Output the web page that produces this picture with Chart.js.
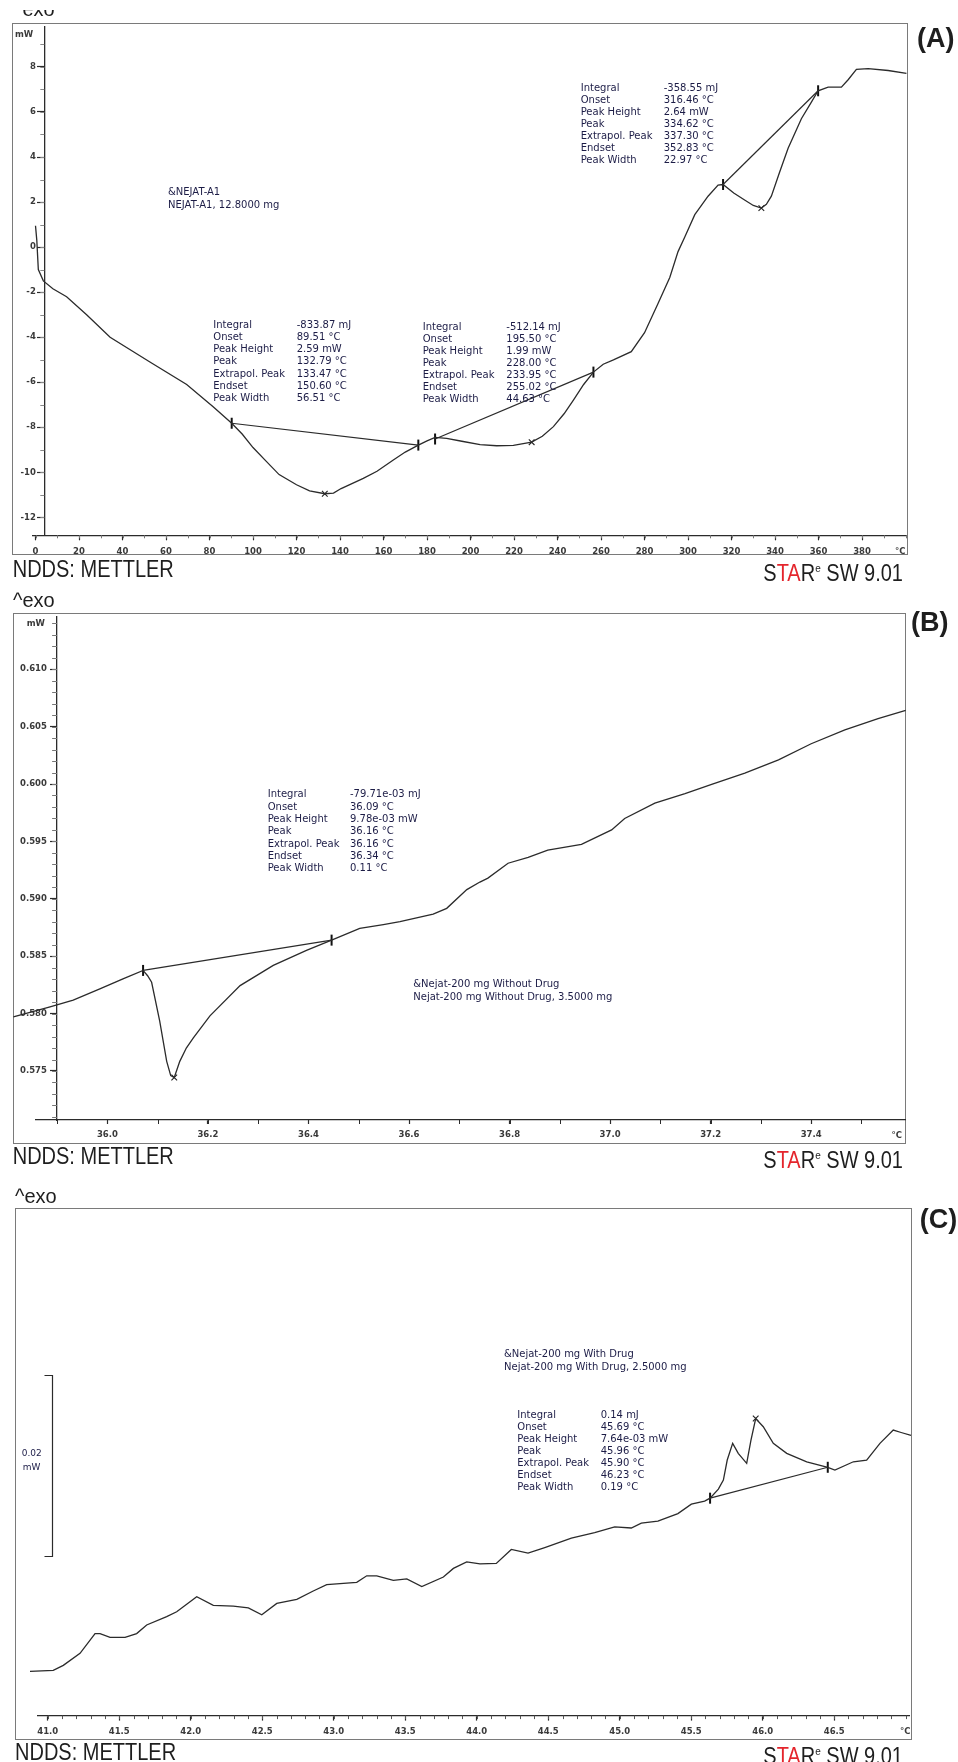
<!DOCTYPE html>
<html>
<head>
<meta charset="utf-8">
<script src="https://cdn.jsdelivr.net/npm/chart.js@4.4.1/dist/chart.umd.min.js"></script>
<style>
  body { margin: 0; width: 958px; height: 1762px; background: #fff; position: relative; overflow: hidden;
         font-family: "Liberation Sans", Arial, sans-serif; }
  .frame { position: absolute; border: 1.5px solid #7a7a7a; box-sizing: border-box; }
  canvas { position: absolute; left: 0; }
  .t { position: absolute; white-space: pre; }
  .big { font-size: 20px; line-height: 20px; color: #1e1e1e; transform: scaleY(1.15); transform-origin: 0 0; }
  .tag { font-size: 27px; line-height: 27px; font-weight: bold; color: #1e1e1e; }
  .note { font-family: "DejaVu Sans"; font-size: 10px; color: #1c1c46; }
  .unit { font-family: "DejaVu Sans"; font-size: 8.5px; font-weight: bold; color: #3a3a3a; line-height: 10px; }
  .red { color: #e4252c; }
  .exo { position: absolute; overflow: hidden; width: 60px; }
</style>
</head>
<body>

<div class="frame" style="left:12px; top:23px; width:896px; height:532px;"></div>
<div class="frame" style="left:12.7px; top:612.7px; width:893px; height:531px;"></div>
<div class="frame" style="left:15px; top:1207.8px; width:897px; height:532.3px;"></div>

<canvas id="chartA" width="958" height="557" style="top:0px;"></canvas>
<canvas id="chartB" width="958" height="566" style="top:580px;"></canvas>
<canvas id="chartC" width="958" height="572" style="top:1170px;"></canvas>

<script>
// ---------- (A) NEJAT-A1, 0-400 °C ----------
const aTemp = [0, 0.6, 1.3, 3.6, 8, 14.3, 23.5, 34.3, 52.6, 69.5, 81.8, 90.2, 95, 100, 106, 112, 120, 126,
  133, 137, 140.5, 150.7, 157, 164.5, 170, 176, 180, 183.7, 189, 196, 204.4, 212, 219.7, 228.1, 233,
  238.1, 243, 247.3, 252, 256.5, 261, 265.7, 273.9, 280, 286.2, 291.6, 295.4, 298.5, 303.1, 309.2,
  313.8, 316.1, 321, 326, 330, 333.7, 336, 338.3, 342, 346, 352.1, 356.7, 359.8, 364.4, 370.5, 373.6,
  377.4, 382.8, 392, 400.4];
const aHeat = [0.95, 0.3, -1.0, -1.5, -1.85, -2.2, -3.0, -4.0, -5.1, -6.1, -7.1, -7.82, -8.3, -8.9, -9.5,
  -10.1, -10.55, -10.82, -10.95, -10.92, -10.72, -10.27, -9.95, -9.45, -9.1, -8.79, -8.6, -8.45, -8.49,
  -8.62, -8.77, -8.82, -8.8, -8.66, -8.4, -7.97, -7.4, -6.79, -6.1, -5.55, -5.2, -5.01, -4.64, -3.8,
  -2.5, -1.35, -0.2, 0.45, 1.44, 2.26, 2.75, 2.78, 2.4, 2.09, 1.85, 1.73, 1.9, 2.26, 3.3, 4.39, 5.7,
  6.44, 6.94, 7.1, 7.1, 7.43, 7.89, 7.92, 7.84, 7.71];
// onset / endset pairs (baseline ends)
const aBaseTemp = [90.2, 176, 183.7, 256.5, 316.1, 359.8];
const aBaseHeat = [-7.82, -8.79, -8.52, -5.55, 2.78, 6.94];
const aPeakTemp = [133, 228.1, 333.7];
const aPeakHeat = [-10.95, -8.66, 1.73];
const aXTicks = [0, 20, 40, 60, 80, 100, 120, 140, 160, 180, 200, 220, 240, 260, 280, 300, 320, 340, 360, 380];
const aYTicks = [-12, -10, -8, -6, -4, -2, 0, 2, 4, 6, 8];

// ---------- (B) Nejat-200 mg Without Drug ----------
const bTemp = [35.813, 35.886, 35.932, 35.985, 36.031, 36.071, 36.080, 36.088, 36.104, 36.118, 36.126,
  36.133, 36.144, 36.157, 36.171, 36.204, 36.264, 36.330, 36.396, 36.446, 36.502, 36.549, 36.582,
  36.648, 36.675, 36.715, 36.741, 36.757, 36.797, 36.837, 36.876, 36.943, 37.003, 37.029, 37.089,
  37.149, 37.202, 37.268, 37.335, 37.400, 37.467, 37.533, 37.588];
const bHeat = [0.57971, 0.58059, 0.58118, 0.58215, 0.58303, 0.58376, 0.58330, 0.58273, 0.57936, 0.57584,
  0.57460, 0.57443, 0.57584, 0.57700, 0.57789, 0.57980, 0.58244, 0.58420, 0.58551, 0.58640, 0.58742,
  0.58776, 0.58802, 0.58867, 0.58917, 0.59080, 0.59146, 0.59180, 0.59310, 0.59360, 0.59424, 0.59474,
  0.59600, 0.59700, 0.59833, 0.59916, 0.59997, 0.60095, 0.60210, 0.60351, 0.60472, 0.60570, 0.60642];
const bBaseTemp = [36.071, 36.446];
const bBaseHeat = [0.58376, 0.58640];
const bPeakTemp = [36.133];
const bPeakHeat = [0.57443];
const bXTicks = [36.0, 36.2, 36.4, 36.6, 36.8, 37.0, 37.2, 37.4];
const bYTicks = [0.575, 0.580, 0.585, 0.590, 0.595, 0.600, 0.605, 0.610];

// ---------- (C) Nejat-200 mg With Drug (relative mW) ----------
const cTemp = [40.772, 40.876, 41.039, 41.109, 41.226, 41.331, 41.366, 41.436, 41.541, 41.622, 41.692,
  41.832, 41.902, 42.042, 42.158, 42.298, 42.403, 42.497, 42.602, 42.742, 42.857, 42.951, 43.161,
  43.231, 43.301, 43.417, 43.511, 43.616, 43.767, 43.837, 43.930, 44.023, 44.137, 44.242, 44.359,
  44.476, 44.662, 44.825, 44.965, 45.081, 45.151, 45.267, 45.407, 45.501, 45.594, 45.632, 45.690,
  45.725, 45.752, 45.790, 45.829, 45.888, 45.918, 45.951, 46.004, 46.074, 46.168, 46.308, 46.455,
  46.505, 46.634, 46.727, 46.820, 46.913, 46.968, 47.037];
const cHeat = [0.00437, 0.00488, 0.00500, 0.00555, 0.00688, 0.00905, 0.00905, 0.00863, 0.00863, 0.00905,
  0.01000, 0.01092, 0.01146, 0.01313, 0.01217, 0.01209, 0.01188, 0.01113, 0.01238, 0.01284, 0.01375,
  0.01446, 0.01471, 0.01543, 0.01543, 0.01493, 0.01509, 0.01425, 0.01530, 0.01625, 0.01696, 0.01675,
  0.01680, 0.01834, 0.01793, 0.01855, 0.01959, 0.02021, 0.02084, 0.02071, 0.02125, 0.02146, 0.02230,
  0.02334, 0.02367, 0.02400, 0.02500, 0.02600, 0.02821, 0.03005, 0.02895, 0.02785, 0.03042, 0.03279,
  0.03189, 0.03005, 0.02895, 0.02802, 0.02741, 0.02711, 0.02802, 0.02821, 0.03005, 0.03152, 0.03125,
  0.03093];
const cBaseTemp = [45.632, 46.455];
const cBaseHeat = [0.02400, 0.02741];
const cPeakTemp = [45.951];
const cPeakHeat = [0.03279];
const cXTicks = [41.0, 41.5, 42.0, 42.5, 43.0, 43.5, 44.0, 44.5, 45.0, 45.5, 46.0, 46.5];
const cScaleBarLow = 0.0176;
const cScaleBarSpan = 0.02;

// evaluation tables
const evalLabels = ['Integral', 'Onset', 'Peak Height', 'Peak', 'Extrapol. Peak', 'Endset', 'Peak Width'];
const aEval1 = ['-833.87 mJ', '89.51 °C', '2.59 mW', '132.79 °C', '133.47 °C', '150.60 °C', '56.51 °C'];
const aEval2 = ['-512.14 mJ', '195.50 °C', '1.99 mW', '228.00 °C', '233.95 °C', '255.02 °C', '44.63 °C'];
const aEval3 = ['-358.55 mJ', '316.46 °C', '2.64 mW', '334.62 °C', '337.30 °C', '352.83 °C', '22.97 °C'];
const bEval = ['-79.71e-03 mJ', '36.09 °C', '9.78e-03 mW', '36.16 °C', '36.16 °C', '36.34 °C', '0.11 °C'];
const cEval = ['0.14 mJ', '45.69 °C', '7.64e-03 mW', '45.96 °C', '45.90 °C', '46.23 °C', '0.19 °C'];

const ink = '#2b2b2b';
const tickFont = {family: 'DejaVu Sans', size: 8.5, weight: 'bold'};

// short unlabeled ticks between the labelled ones
const minorTicks = {
  id: 'minorTicks',
  afterDraw(chart, args, o) {
    const {ctx, chartArea, scales: {x, y}} = chart;
    ctx.save();
    ctx.lineWidth = 1;
    if (o.x) {
      ctx.strokeStyle = o.x.color;
      for (let k = Math.ceil(x.min / o.x.step - 1e-6); k <= Math.floor(x.max / o.x.step + 1e-6); k++) {
        const px = Math.round(x.getPixelForValue(k * o.x.step)) + 0.5;
        ctx.beginPath();
        ctx.moveTo(px, chartArea.bottom);
        ctx.lineTo(px, chartArea.bottom + o.x.len);
        ctx.stroke();
      }
    }
    if (o.y) {
      ctx.strokeStyle = o.y.color;
      const ax = x.getPixelForValue(o.y.at);
      for (let k = Math.ceil(y.min / o.y.step - 1e-6); k <= Math.floor(y.max / o.y.step + 1e-6); k++) {
        const py = Math.round(y.getPixelForValue(k * o.y.step)) + 0.5;
        ctx.beginPath();
        ctx.moveTo(ax - o.y.len, py);
        ctx.lineTo(ax, py);
        ctx.stroke();
      }
    }
    ctx.restore();
  }
};

// bracket showing the mW scale when there is no y axis
const scaleBar = {
  id: 'scaleBar',
  afterDraw(chart, args, o) {
    if (!o.span) return;
    const {ctx, scales: {y}} = chart;
    const y0 = Math.round(y.getPixelForValue(o.low)) + 0.5;
    const y1 = Math.round(y.getPixelForValue(o.low + o.span)) + 0.5;
    ctx.save();
    ctx.strokeStyle = ink;
    ctx.lineWidth = 1.2;
    ctx.beginPath();
    ctx.moveTo(o.capX, y1);
    ctx.lineTo(o.barX, y1);
    ctx.lineTo(o.barX, y0);
    ctx.lineTo(o.capX, y0);
    ctx.stroke();
    ctx.restore();
  }
};

function pts(xs, ys) {
  return xs.map((x, i) => ({x: x, y: ys[i]}));
}

function datasets(temp, heat, baseT, baseH, peakT, peakH) {
  const sets = [{
    data: pts(temp, heat), showLine: true, borderColor: ink, borderWidth: 1.3,
    pointRadius: 0, clip: false
  }];
  for (let i = 0; i < baseT.length; i += 2) {
    sets.push({
      data: pts(baseT.slice(i, i + 2), baseH.slice(i, i + 2)), showLine: true,
      borderColor: ink, borderWidth: 1.2, pointRadius: 0, clip: false
    });
  }
  sets.push({
    data: pts(baseT, baseH), pointStyle: 'line', rotation: 90, pointRadius: 5.5,
    borderColor: '#111', borderWidth: 2, clip: false
  });
  sets.push({
    data: pts(peakT, peakH), pointStyle: 'crossRot', pointRadius: 4,
    borderColor: '#222', borderWidth: 1.1, clip: false
  });
  return sets;
}

function makeChart(id, p) {
  // a y axis placed at an x value draws its labels flush against the axis line,
  // so the gap is made with trailing spaces
  const y = p.yTicks ? {
    type: 'linear', min: p.yMin, max: p.yMax, position: {x: p.yAt},
    afterBuildTicks: ax => { ax.ticks = p.yTicks.map(v => ({value: v})); },
    ticks: {font: tickFont, color: '#3a3a3a', autoSkip: false,
            callback: v => v.toFixed(p.yDec) + p.yGap},
    grid: {drawOnChartArea: false, tickLength: p.yTick, tickColor: ink, tickWidth: 1.2},
    border: {color: ink, width: 1.3}
  } : {type: 'linear', min: p.yMin, max: p.yMax, display: false};

  return new Chart(document.getElementById(id), {
    type: 'scatter',
    data: {datasets: p.datasets},
    options: {
      responsive: false,
      animation: false,
      devicePixelRatio: 1,
      layout: {padding: p.padding, autoPadding: false},
      plugins: {
        legend: {display: false},
        tooltip: {enabled: false},
        minorTicks: p.minor,
        scaleBar: p.bar || {}
      },
      scales: {
        x: {
          type: 'linear', min: p.xMin, max: p.xMax, position: 'bottom',
          afterBuildTicks: ax => { ax.ticks = p.xTicks.map(v => ({value: v})); },
          afterFit: ax => { ax.height = 20; },
          ticks: {font: tickFont, color: '#3a3a3a', padding: p.xPad, maxRotation: 0, autoSkip: false,
                  callback: v => v.toFixed(p.xDec)},
          grid: {drawOnChartArea: false, tickLength: p.xTick, tickColor: ink, tickWidth: 1.2},
          border: {color: ink, width: 1.3}
        },
        y: y
      }
    },
    plugins: [minorTicks, scaleBar]
  });
}

makeChart('chartA', {
  datasets: datasets(aTemp, aHeat, aBaseTemp, aBaseHeat, aPeakTemp, aPeakHeat),
  padding: {left: 33, right: 52, top: 26.7, bottom: 1.7},
  xMin: -1.15, xMax: 400.2, xTicks: aXTicks, xDec: 0, xPad: 6, xTick: 5,
  yMin: -12.795, yMax: 9.785, yAt: 4.05, yTicks: aYTicks, yDec: 0, yGap: '\u2002\u2002', yTick: 7,
  minor: {x: {step: 10, len: 3, color: '#777'}, y: {step: 1, len: 4, color: '#888', at: 4.05}}
});

makeChart('chartB', {
  datasets: datasets(bTemp, bHeat, bBaseTemp, bBaseHeat, bPeakTemp, bPeakHeat),
  padding: {left: 36, right: 52.3, top: 37, bottom: 6},
  xMin: 35.858, xMax: 37.588, xTicks: bXTicks, xDec: 1, xPad: 6, xTick: 4,
  yMin: 0.57073, yMax: 0.61455, yAt: 35.9, yTicks: bYTicks, yDec: 3, yGap: '\u2002\u2002\u2009', yTick: 6,
  minor: {x: {step: 0.1, len: 4, color: ink}, y: {step: 0.001, len: 5, color: '#777', at: 35.9}}
});

makeChart('chartC', {
  datasets: datasets(cTemp, cHeat, cBaseTemp, cBaseHeat, cPeakTemp, cPeakHeat),
  padding: {left: 37.7, right: 48.3, top: 40, bottom: 6.4},
  xMin: 40.930, xMax: 47.028, xTicks: cXTicks, xDec: 1, xPad: 5.8, xTick: 5,
  yMin: 0, yMax: 0.05581,
  minor: {x: {step: 0.1, len: 3.5, color: '#555'}},
  bar: {low: cScaleBarLow, span: cScaleBarSpan, barX: 52.5, capX: 44.5}
});

// ---------- page text ----------
function put(txt, css, cls) {
  const d = document.createElement('div');
  d.className = 't ' + (cls || '');
  d.textContent = txt;
  Object.assign(d.style, css);
  document.body.appendChild(d);
  return d;
}
function evalBlock(left, valLeft, top, lh, values) {
  put(evalLabels.join('\n'), {left: left + 'px', top: top + 'px', lineHeight: lh + 'px'}, 'note');
  put(values.join('\n'), {left: valLeft + 'px', top: top + 'px', lineHeight: lh + 'px'}, 'note');
}
function footer(top, leftX) {
  put('NDDS: METTLER', {left: leftX + 'px', top: top + 'px'}, 'big');
  const s = put('', {right: '55px', top: top + 'px'}, 'big');
  s.innerHTML = 'S<span class="red">TA</span>R<sup style="font-size:10px;vertical-align:8px;">e</sup> SW 9.01';
}
function exo(top, clipTop, left) {
  const box = document.createElement('div');
  box.className = 'exo';
  box.style.left = left + 'px';
  box.style.top = clipTop + 'px';
  box.style.height = (top + 24 - clipTop) + 'px';
  const t = document.createElement('div');
  t.className = 't';
  t.style.cssText = 'font-size:20px;line-height:20px;color:#1e1e1e;left:0;top:' + (top - clipTop) + 'px;';
  t.textContent = '^exo';
  box.appendChild(t);
  document.body.appendChild(box);
}

// (A)
exo(-0.9, 10, 13);
put('(A)', {left: '917px', top: '25px'}, 'tag');
put('mW', {left: '15px', top: '28.5px'}, 'unit');
put('°C', {left: '895px', top: '546px'}, 'unit');
put('&NEJAT-A1\nNEJAT-A1, 12.8000 mg', {left: '168px', top: '186.3px', lineHeight: '12.2px'}, 'note');
evalBlock(213.3, 296.7, 318.7, 12.27, aEval1);
evalBlock(422.7, 506.3, 320.5, 12.15, aEval2);
evalBlock(580.7, 663.7, 81.6, 12.0, aEval3);
footer(556.5, 12.7);

// (B)
exo(589.5, 580, 13);
put('(B)', {left: '911px', top: '609px'}, 'tag');
put('mW', {left: '26.7px', top: '617.5px'}, 'unit');
put('°C', {left: '891.5px', top: '1130px'}, 'unit');
evalBlock(267.7, 350, 788.4, 12.3, bEval);
put('&Nejat-200 mg Without Drug\nNejat-200 mg Without Drug, 3.5000 mg',
    {left: '413.3px', top: '978.4px', lineHeight: '12.4px'}, 'note');
footer(1143.8, 12.7);

// (C)
exo(1185.5, 1170, 15);
put('(C)', {left: '919.7px', top: '1205.6px'}, 'tag');
put('0.02\nmW', {left: '19.7px', top: '1446px', width: '24px', textAlign: 'center',
                 lineHeight: '14.3px', fontSize: '9px', fontWeight: 'normal', color: '#22224c'}, 'unit');
put('°C', {left: '900px', top: '1726.4px'}, 'unit');
put('&Nejat-200 mg With Drug\nNejat-200 mg With Drug, 2.5000 mg',
    {left: '504px', top: '1347px', lineHeight: '13.2px'}, 'note');
evalBlock(517.3, 600.7, 1409.3, 11.97, cEval);
footer(1739.6, 15);
</script>
</body>
</html>
